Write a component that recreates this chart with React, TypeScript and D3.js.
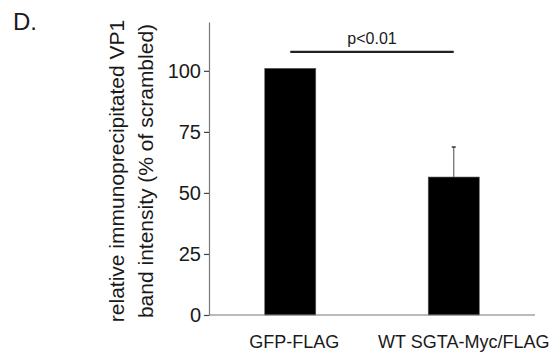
import { useRef, useEffect } from "react";
import * as d3 from "d3";

const categories = ["GFP-FLAG", "WT SGTA-Myc/FLAG"];
const values = [101, 56.5];
const errors = [0, 12.3];
const yTicks = [0, 25, 50, 75, 100];
const yLabelLines = ["relative immunoprecipitated VP1", "band intensity (% of scrambled)"];
const pValueText = "p<0.01";
const pBarLevel = 107.8;
const panelLabel = "D.";

export default function App() {
  const svgRef = useRef<SVGSVGElement>(null);

  useEffect(() => {
    if (!svgRef.current) return;
    const width = 554;
    const height = 358;
    const font = "'Liberation Sans', Arial, sans-serif";
    const textColor = "#1a1a1a";
    const axisColor = "#777";

    const svg = d3.select(svgRef.current);
    svg.selectAll("*").remove();
    svg.attr("width", width).attr("height", height);

    svg.append("rect").attr("width", width).attr("height", height).attr("fill", "#fff");

    const x = d3
      .scaleBand<string>()
      .domain(categories)
      .range([209, 535])
      .paddingInner(0.688)
      .paddingOuter(0.341);
    const y = d3.scaleLinear().domain([0, 120]).range([315, 22]);

    // Panel label
    svg
      .append("text")
      .attr("x", 13)
      .attr("y", 30)
      .attr("fill", textColor)
      .attr("font-size", 24)
      .attr("font-family", font)
      .text(panelLabel);

    // Bars
    svg
      .append("g")
      .selectAll("rect")
      .data(categories)
      .join("rect")
      .attr("x", (d) => x(d)!)
      .attr("y", (_, i) => y(values[i]))
      .attr("width", x.bandwidth())
      .attr("height", (_, i) => y(0) - y(values[i]))
      .attr("fill", "#000")
      .attr("stroke", "#555")
      .attr("stroke-width", 0.6);

    // Error bars (upper only)
    categories.forEach((c, i) => {
      if (!errors[i]) return;
      const cx = x(c)! + x.bandwidth() / 2;
      svg
        .append("line")
        .attr("x1", cx)
        .attr("x2", cx)
        .attr("y1", y(values[i]))
        .attr("y2", y(values[i] + errors[i]))
        .attr("stroke", "#666")
        .attr("stroke-width", 1.2);
      svg
        .append("line")
        .attr("x1", cx - 2)
        .attr("x2", cx + 2)
        .attr("y1", y(values[i] + errors[i]))
        .attr("y2", y(values[i] + errors[i]))
        .attr("stroke", "#333")
        .attr("stroke-width", 1.5);
    });

    // Y axis
    const yAxis = svg
      .append("g")
      .attr("transform", `translate(209,0)`)
      .call(d3.axisLeft(y).tickValues(yTicks).tickSize(5).tickSizeOuter(0).tickPadding(3));
    yAxis.select(".domain").attr("stroke", axisColor).attr("stroke-width", 1.2);
    yAxis.selectAll(".tick line").attr("stroke", "#444").attr("stroke-width", 1.2);
    yAxis
      .selectAll(".tick text")
      .attr("fill", textColor)
      .attr("font-size", 20)
      .attr("font-family", font);

    // X baseline
    svg
      .append("line")
      .attr("x1", 209)
      .attr("x2", 535)
      .attr("y1", y(0))
      .attr("y2", y(0))
      .attr("stroke", axisColor)
      .attr("stroke-width", 1.2);

    // Category labels (slightly right of bar centres, as in the original)
    const labelShift = [4, 10];
    svg
      .append("g")
      .selectAll("text")
      .data(categories)
      .join("text")
      .attr("x", (d, i) => x(d)! + x.bandwidth() / 2 + labelShift[i])
      .attr("y", 348)
      .attr("text-anchor", "middle")
      .attr("fill", textColor)
      .attr("font-size", 18)
      .attr("font-family", font)
      .text((d) => d);

    // Significance bar
    const c0 = x(categories[0])! + x.bandwidth() / 2;
    const c1 = x(categories[1])! + x.bandwidth() / 2;
    svg
      .append("line")
      .attr("x1", c0)
      .attr("x2", c1)
      .attr("y1", y(pBarLevel))
      .attr("y2", y(pBarLevel))
      .attr("stroke", "#222")
      .attr("stroke-width", 2.2);
    svg
      .append("text")
      .attr("x", (c0 + c1) / 2)
      .attr("y", 44)
      .attr("text-anchor", "middle")
      .attr("fill", textColor)
      .attr("font-size", 16)
      .attr("font-family", font)
      .text(pValueText);

    // Y axis title
    yLabelLines.forEach((line, i) => {
      svg
        .append("text")
        .attr("transform", `translate(${124 + i * 28.5},171) rotate(-90)`)
        .attr("text-anchor", "middle")
        .attr("fill", textColor)
        .attr("font-size", 21)
        .attr("font-family", font)
        .text(line);
    });
  }, []);

  return (
    <div style={{ position: "fixed", left: 0, top: 0 }}>
      <svg ref={svgRef} style={{ display: "block" }} />
    </div>
  );
}
